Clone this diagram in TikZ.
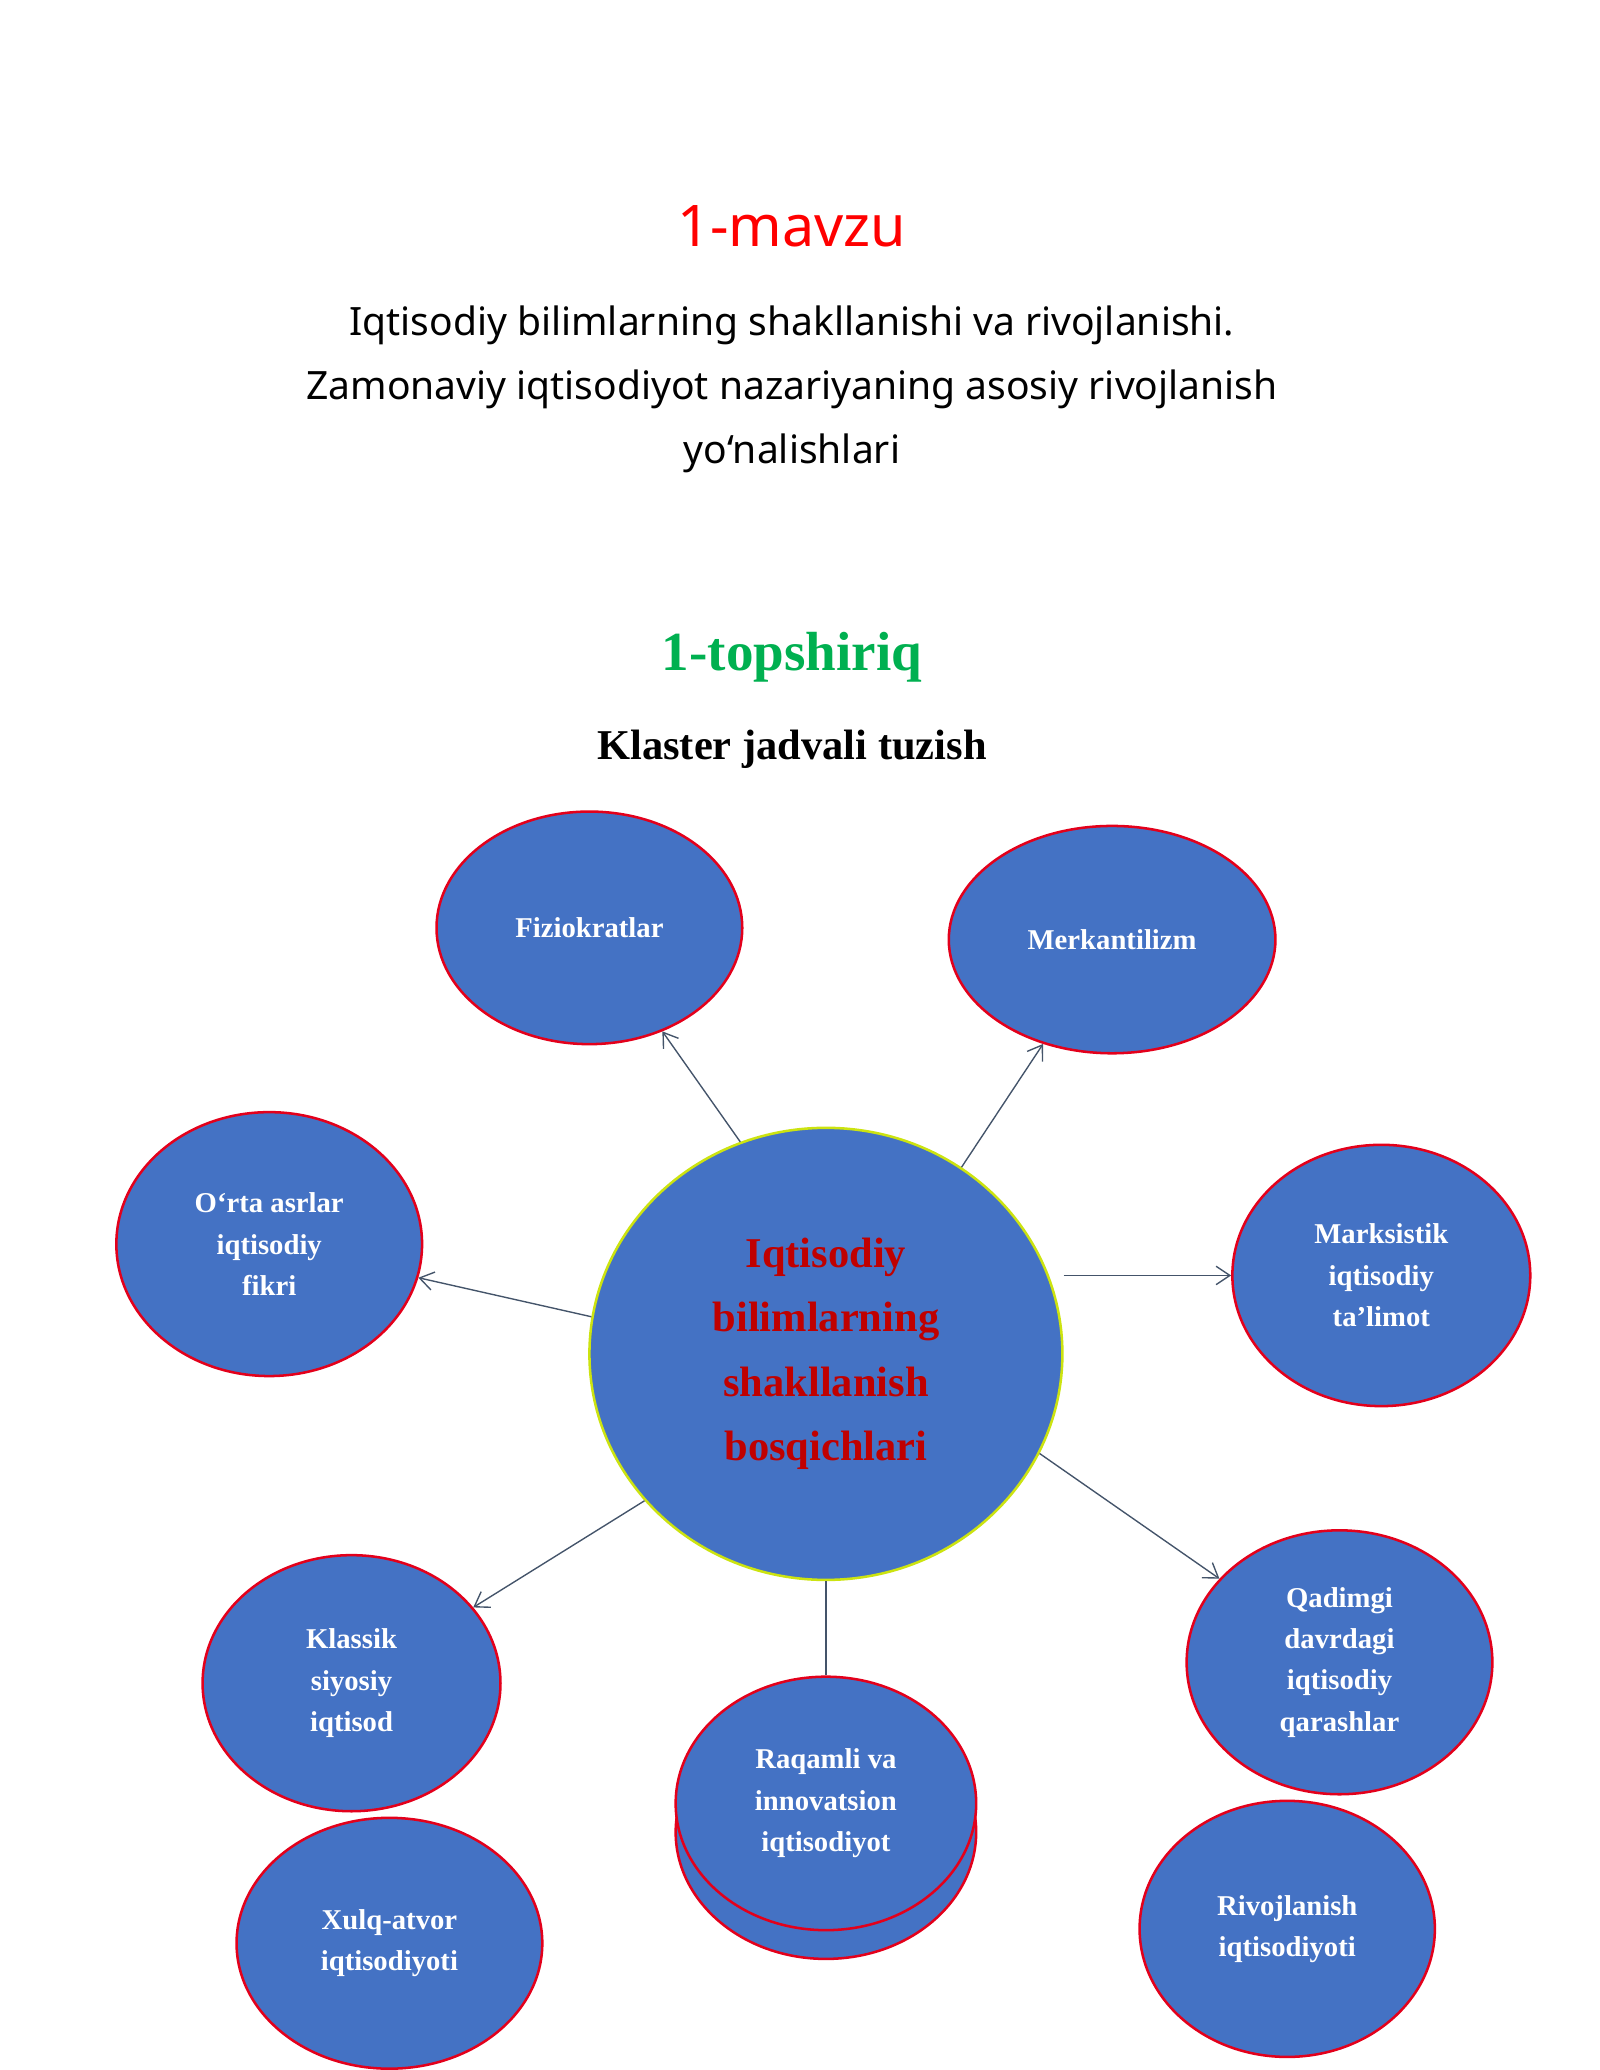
\documentclass[tikz,border=0pt]{standalone}
\usepackage{fontspec}
\setmainfont{Liberation Serif}
\newfontfamily\titlefont{Noto Sans}
\usetikzlibrary{shapes.geometric,arrows.meta}
\definecolor{bfill}{HTML}{4472C4}
\definecolor{bred}{HTML}{E3001B}
\definecolor{dred}{HTML}{C00000}
\definecolor{tgreen}{HTML}{00B050}
\definecolor{arr}{HTML}{44546A}
\begin{document}
\begin{tikzpicture}[x=0.02cm,y=-0.02cm,
  el/.style={ellipse,draw=bred,line width=1.1pt,fill=bfill,inner sep=0pt,text=white,
    font=\bfseries\fontsize{12.5}{18}\selectfont,align=center},
  con/.style={draw=arr,line width=0.6pt,-{Straight Barb[length=6pt,width=8pt]}}]
\useasboundingbox (0,0) rectangle (1224,1584);
\node[text=red,font=\titlefont\bfseries\fontsize{25}{30}\selectfont] (t1) at (606,173) {1-mavzu};
\node[font=\titlefont\bfseries\fontsize{17}{28}\selectfont,align=center] (t2) at (606,298)
  {Iqtisodiy bilimlarning shakllanishi va rivojlanishi.\\Zamonaviy iqtisodiyot nazariyaning asosiy rivojlanish\\yo‘nalishlari};
\node[text=tgreen,font=\bfseries\fontsize{24}{28}\selectfont] (t3) at (606,503) {1-topshiriq};
\node[font=\bfseries\fontsize{18.5}{22}\selectfont] (t4) at (606,573) {Klaster jadvali tuzish};

\node[el,minimum width=234\pgflinewidth/1.1*0+4.68cm,minimum height=3.56cm] (f) at (451,710) {Fiziokratlar};
\node[el,minimum width=5.0cm,minimum height=3.48cm] (m) at (851,719) {Merkantilizm};
\node[el,minimum width=4.68cm,minimum height=4.04cm] (o) at (206,952) {O‘rta asrlar\\iqtisodiy\\fikri};
\node[el,minimum width=4.56cm,minimum height=4.0cm] (mk) at (1057,976) {Marksistik\\iqtisodiy\\ta’limot};
\node[el,minimum width=4.56cm,minimum height=3.92cm] (k) at (269,1288) {Klassik\\siyosiy\\iqtisod};
\node[el,minimum width=4.68cm,minimum height=4.04cm] (q) at (1025,1272) {Qadimgi\\davrdagi\\iqtisodiy\\qarashlar};
\node[el,minimum width=4.6cm,minimum height=3.88cm] (r2) at (632,1402) {};
\node[el,minimum width=4.6cm,minimum height=3.88cm] (r) at (632,1380) {Raqamli va\\innovatsion\\iqtisodiyot};
\node[el,minimum width=4.68cm,minimum height=3.84cm] (x) at (298,1487) {Xulq-atvor\\iqtisodiyoti};
\node[el,minimum width=4.52cm,minimum height=3.92cm] (rv) at (985,1476) {Rivojlanish\\iqtisodiyoti};

\node[circle,draw=yellow!80!green,line width=1.1pt,fill=bfill,inner sep=0pt,minimum size=7.0cm,
  text=dred,font=\bfseries\fontsize{18.5}{28}\selectfont,align=center,
  ellipse,minimum width=7.24cm,minimum height=6.92cm] (c) at (632,1036)
  {Iqtisodiy\\bilimlarning\\shakllanish\\bosqichlari};

\draw[con] (c.112) -- (f);
\draw[con] (c.54) -- (m);
\draw[con] (c.171) -- (o);
\draw[con] (c.east |- mk.west) -- (mk.west);
\draw[con] (c.219) -- (k);
\draw[con] (c.335) -- (q);
\draw[draw=arr,line width=0.6pt] (c.south) -- (r.north);
\end{tikzpicture}
\end{document}
